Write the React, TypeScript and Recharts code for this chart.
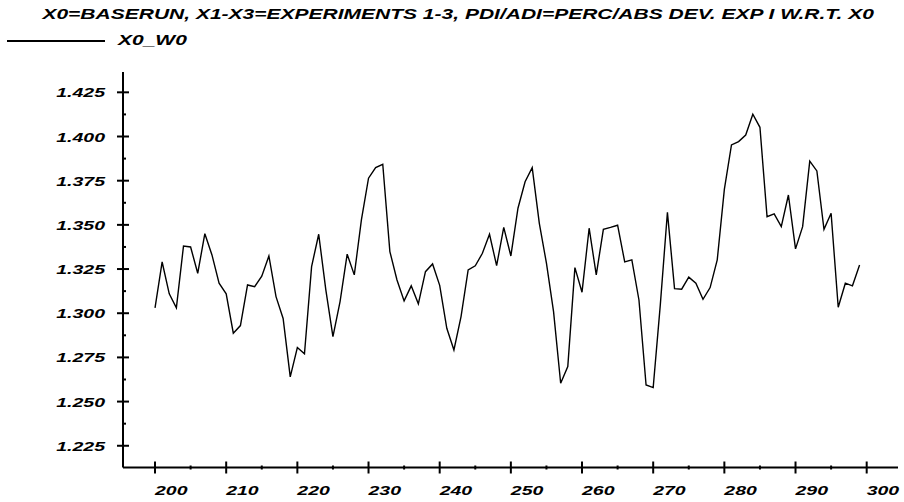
import React from "react";
import { LineChart, Line, XAxis, YAxis } from "recharts";

const TITLE = "X0=BASERUN, X1-X3=EXPERIMENTS 1-3, PDI/ADI=PERC/ABS DEV. EXP I W.R.T. X0";
const SERIES_NAME = "X0_W0";

const periods = [
  200, 201, 202, 203, 204, 205, 206, 207, 208, 209,
  210, 211, 212, 213, 214, 215, 216, 217, 218, 219,
  220, 221, 222, 223, 224, 225, 226, 227, 228, 229,
  230, 231, 232, 233, 234, 235, 236, 237, 238, 239,
  240, 241, 242, 243, 244, 245, 246, 247, 248, 249,
  250, 251, 252, 253, 254, 255, 256, 257, 258, 259,
  260, 261, 262, 263, 264, 265, 266, 267, 268, 269,
  270, 271, 272, 273, 274, 275, 276, 277, 278, 279,
  280, 281, 282, 283, 284, 285, 286, 287, 288, 289,
  290, 291, 292, 293, 294, 295, 296, 297, 298, 299,
];

const x0w0 = [
  1.303, 1.329, 1.311, 1.303, 1.338, 1.3375, 1.3226, 1.345, 1.333, 1.317,
  1.311, 1.2887, 1.293, 1.316, 1.315, 1.321, 1.3324, 1.3094, 1.297, 1.264,
  1.2806, 1.277, 1.3264, 1.3447, 1.3132, 1.2868, 1.3066, 1.3334, 1.3217, 1.3528,
  1.3764, 1.3824, 1.3843, 1.3349, 1.3188, 1.307, 1.3155, 1.3053, 1.3235, 1.3279,
  1.3158, 1.2915, 1.2792, 1.2981, 1.3245, 1.3268, 1.3339, 1.3447, 1.3269, 1.3486,
  1.3324, 1.3594, 1.3744, 1.3824, 1.3509, 1.3283, 1.3009, 1.2604, 1.2698, 1.3258,
  1.3119, 1.3481, 1.3217, 1.3475, 1.3486, 1.3498, 1.329, 1.3302, 1.3075, 1.2594,
  1.2579, 1.3047, 1.3571, 1.3139, 1.3136, 1.3204, 1.317, 1.3079, 1.3145, 1.3302,
  1.3701, 1.3952, 1.3971, 1.4008, 1.4126, 1.4052, 1.3546, 1.3562, 1.349, 1.3669,
  1.3364, 1.349, 1.3861, 1.3805, 1.3475, 1.3566, 1.3034, 1.317, 1.3155, 1.3273,
];

// major ticks get labels, minor ones are just short marks
const xMajor = [200, 210, 220, 230, 240, 250, 260, 270, 280, 290, 300];
const xMinor = [205, 215, 225, 235, 245, 255, 265, 275, 285, 295];
const yMajor = [1.225, 1.25, 1.275, 1.3, 1.325, 1.35, 1.375, 1.4, 1.425];
const yMinor = [1.2375, 1.2625, 1.2875, 1.3125, 1.3375, 1.3625, 1.3875, 1.4125];

const data = periods.map((p, i) => ({ period: p, x0w0: x0w0[i] }));

const FONT = "'Liberation Sans', Arial, sans-serif";
const STRETCH = 1.5;

const XTick = ({ x, y, payload }: any) => {
  const major = xMajor.includes(payload.value);
  return (
    <g>
      <line x1={x} x2={x} y1={y - (major ? 6 : 2)} y2={y + (major ? 6 : 2)} stroke="#000" strokeWidth={2} />
      {major && (
        <g transform={`translate(${x},${y + 27}) scale(${STRETCH},1)`}>
          <text x={0} y={0} textAnchor="start" fontFamily={FONT} fontWeight="bold" fontStyle="italic" fontSize={13} fill="#000">
            {payload.value}
          </text>
        </g>
      )}
    </g>
  );
};

const YTick = ({ x, y, payload }: any) => {
  const major = yMajor.some((v) => Math.abs(v - payload.value) < 1e-6);
  return (
    <g>
      <line x1={major ? x - 6 : x} x2={x + (major ? 6 : 3)} y1={y} y2={y} stroke="#000" strokeWidth={2} />
      {major && (
        <g transform={`translate(${x - 18},${y + 5}) scale(${STRETCH},1)`}>
          <text x={0} y={0} textAnchor="end" fontFamily={FONT} fontWeight="bold" fontStyle="italic" fontSize={13} fill="#000">
            {payload.value.toFixed(3)}
          </text>
        </g>
      )}
    </g>
  );
};

export default function App() {
  return (
    <div style={{ position: "absolute", left: 0, top: 0, width: 904, height: 502, background: "#fff", fontFamily: FONT, fontWeight: "bold", fontStyle: "italic" }}>
      <div style={{ position: "absolute", top: 6, left: 0, width: 904, textAlign: "center", fontSize: 14, whiteSpace: "nowrap" }}>
        <span style={{ display: "inline-block", transform: "scale(1.5,1)", marginLeft: 12 }}>{TITLE}</span>
      </div>
      <div style={{ position: "absolute", top: 40, left: 7, width: 98, borderTop: "2px solid #000" }} />
      <div style={{ position: "absolute", top: 32, left: 118, fontSize: 14 }}>
        <span style={{ display: "inline-block", transform: "scale(1.5,1)", transformOrigin: "left" }}>{SERIES_NAME}</span>
      </div>
      <LineChart width={904} height={502} data={data} margin={{ top: 72, right: 6, left: 0, bottom: 0 }}>
        <XAxis
          dataKey="period"
          type="number"
          domain={[195.5, 304.4]}
          ticks={[...xMajor, ...xMinor].sort((a, b) => a - b)}
          interval={0}
          tick={<XTick />}
          tickLine={false}
          tickSize={0}
          tickMargin={0}
          axisLine={{ stroke: "#000", strokeWidth: 2 }}
          height={34.5}
          allowDataOverflow
        />
        <YAxis
          type="number"
          domain={[1.2127, 1.4365]}
          ticks={[...yMajor, ...yMinor].sort((a, b) => a - b)}
          interval={0}
          tick={<YTick />}
          tickLine={false}
          tickSize={0}
          tickMargin={0}
          axisLine={{ stroke: "#000", strokeWidth: 2 }}
          width={123}
          allowDataOverflow
        />
        <Line type="linear" dataKey="x0w0" name={SERIES_NAME} stroke="#000" strokeWidth={1.4} dot={false} activeDot={false} isAnimationActive={false} />
      </LineChart>
    </div>
  );
}
